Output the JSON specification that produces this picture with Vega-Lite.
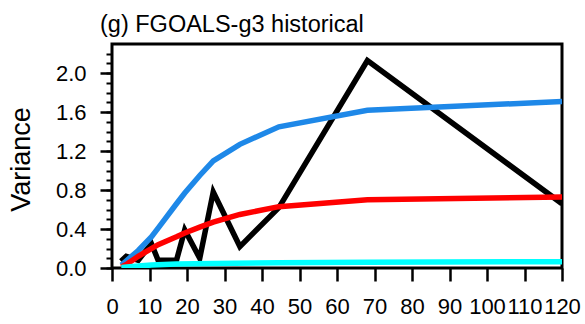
{
  "$schema": "https://vega.github.io/schema/vega-lite/v6.json",
  "autosize": "none",
  "width": 450,
  "height": 224,
  "padding": {"left": 112, "top": 44, "right": 23, "bottom": 56},
  "background": "white",
  "config": {
    "view": {"stroke": "black", "strokeWidth": 3},
    "font": "Liberation Sans"
  },
  "title": {
    "text": "(g) FGOALS-g3 historical",
    "anchor": "start",
    "frame": "group",
    "dx": -12,
    "offset": 8,
    "fontSize": 23.5,
    "fontWeight": "normal",
    "font": "Liberation Sans",
    "color": "black"
  },
  "datasets": {
    "lines": [
      {"s": "black", "x": 2.4, "y": 0.07},
      {"s": "black", "x": 3.8, "y": 0.12},
      {"s": "black", "x": 7, "y": 0.08},
      {"s": "black", "x": 10.5, "y": 0.25},
      {"s": "black", "x": 12.3, "y": 0.08},
      {"s": "black", "x": 17.2, "y": 0.08},
      {"s": "black", "x": 19.4, "y": 0.39},
      {"s": "black", "x": 23.4, "y": 0.1},
      {"s": "black", "x": 27, "y": 0.78},
      {"s": "black", "x": 34.1, "y": 0.22},
      {"s": "black", "x": 44.5, "y": 0.62},
      {"s": "black", "x": 68.1, "y": 2.13},
      {"s": "black", "x": 120, "y": 0.66},
      {"s": "blue", "x": 2.5, "y": 0.03},
      {"s": "blue", "x": 4, "y": 0.08},
      {"s": "blue", "x": 7, "y": 0.18},
      {"s": "blue", "x": 10.5, "y": 0.32},
      {"s": "blue", "x": 12.3, "y": 0.41},
      {"s": "blue", "x": 17.2, "y": 0.66},
      {"s": "blue", "x": 19.4, "y": 0.77},
      {"s": "blue", "x": 23.4, "y": 0.95},
      {"s": "blue", "x": 27, "y": 1.1},
      {"s": "blue", "x": 34.1, "y": 1.27},
      {"s": "blue", "x": 44.5, "y": 1.45},
      {"s": "blue", "x": 68.1, "y": 1.62},
      {"s": "blue", "x": 120, "y": 1.71},
      {"s": "red", "x": 2.5, "y": 0.01},
      {"s": "red", "x": 4, "y": 0.04},
      {"s": "red", "x": 7, "y": 0.12},
      {"s": "red", "x": 10.5, "y": 0.2},
      {"s": "red", "x": 12.3, "y": 0.24},
      {"s": "red", "x": 17.2, "y": 0.32},
      {"s": "red", "x": 19.4, "y": 0.36},
      {"s": "red", "x": 23.4, "y": 0.42},
      {"s": "red", "x": 27, "y": 0.47},
      {"s": "red", "x": 34.1, "y": 0.55},
      {"s": "red", "x": 44.5, "y": 0.63},
      {"s": "red", "x": 68.1, "y": 0.7},
      {"s": "red", "x": 120, "y": 0.73},
      {"s": "cyan", "x": 2.5, "y": 0.005},
      {"s": "cyan", "x": 4, "y": 0.01},
      {"s": "cyan", "x": 7, "y": 0.02},
      {"s": "cyan", "x": 10.5, "y": 0.03},
      {"s": "cyan", "x": 17.2, "y": 0.04},
      {"s": "cyan", "x": 27, "y": 0.045},
      {"s": "cyan", "x": 44.5, "y": 0.055},
      {"s": "cyan", "x": 68.1, "y": 0.06},
      {"s": "cyan", "x": 120, "y": 0.065}
    ]
  },
  "data": {"name": "lines"},
  "resolve": {"axis": {"y": "independent"}},
  "encoding": {
    "x": {
      "field": "x", "type": "quantitative",
      "scale": {"domain": [0, 120], "nice": false, "zero": false},
      "axis": {
        "values": [0, 10, 20, 30, 40, 50, 60, 70, 80, 90, 100, 110, 120],
        "tickCount": 13,
        "title": null, "grid": false, "domain": false,
        "tickColor": "black", "tickWidth": 2.5, "tickSize": 13,
        "labelFontSize": 22, "labelFont": "Liberation Sans", "labelColor": "black",
        "labelBaseline": "alphabetic", "labelPadding": 32,
        "labelOverlap": false, "labelBound": false, "labelFlush": false
      }
    }
  },
  "layer": [
    {
      "transform": [{"filter": "datum.s === 'black'"}],
      "mark": {"type": "line", "color": "black", "strokeWidth": 5.5, "clip": true},
      "encoding": {
        "y": {
          "field": "y", "type": "quantitative",
          "scale": {"domain": [0, 2.3], "nice": false, "zero": false},
          "axis": {
            "values": [0, 0.4, 0.8, 1.2, 1.6, 2.0],
            "format": ".1f",
            "orient": "left",
            "grid": false, "domain": false,
            "tickColor": "black", "tickWidth": 2.5, "tickSize": 12,
            "labelFontSize": 22, "labelFont": "Liberation Sans", "labelColor": "black",
            "labelPadding": 14, "labelBaseline": "middle",
            "labelOverlap": false, "labelBound": false, "labelFlush": false,
            "title": "Variance",
            "titleFont": "Liberation Sans", "titleFontSize": 27, "titleFontWeight": "normal",
            "titleColor": "black",
            "titleAngle": -90, "titleAlign": "center", "titleBaseline": "alphabetic",
            "titleX": -83, "titleY": 115
          }
        }
      }
    },
    {
      "transform": [{"filter": "datum.s === 'blue'"}],
      "mark": {"type": "line", "color": "#1E88E8", "strokeWidth": 5.5, "clip": true},
      "encoding": {
        "y": {
          "field": "y", "type": "quantitative",
          "axis": {
            "values": [0, 0.1, 0.2, 0.3, 0.4, 0.5, 0.6, 0.7, 0.8, 0.9, 1.0, 1.1, 1.2, 1.3, 1.4, 1.5, 1.6, 1.7, 1.8, 1.9, 2.0, 2.1, 2.2],
            "orient": "left", "labels": false, "title": null, "grid": false, "domain": false,
            "tickColor": "black", "tickWidth": 2, "tickSize": 6
          }
        }
      }
    },
    {
      "transform": [{"filter": "datum.s === 'red'"}],
      "mark": {"type": "line", "color": "#FF0000", "strokeWidth": 5.5, "clip": true},
      "encoding": {
        "y": {"field": "y", "type": "quantitative", "axis": null}
      }
    },
    {
      "transform": [{"filter": "datum.s === 'cyan'"}],
      "mark": {"type": "line", "color": "#00FFFF", "strokeWidth": 5.5, "clip": true},
      "encoding": {
        "y": {"field": "y", "type": "quantitative", "axis": null}
      }
    }
  ]
}
